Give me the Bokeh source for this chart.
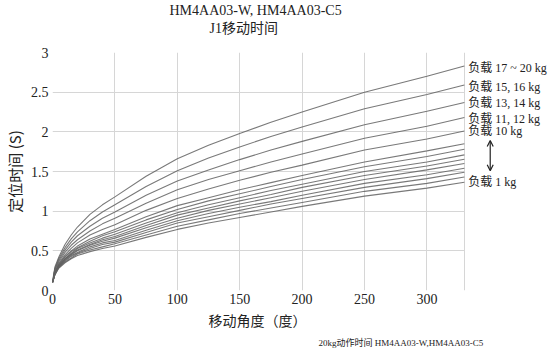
from bokeh.plotting import figure
from bokeh.models import Title, Arrow, OpenHead, FixedTicker, ColumnDataSource
from bokeh.core.properties import value
from bokeh.embed import file_html
from bokeh.resources import INLINE

# Angle (degrees) at which values were read
angles = [0, 2, 5, 10, 15, 20, 30, 40, 50, 75, 100, 125, 150, 175, 200, 250, 300, 330]

# Positioning time (s) per load, top (17-20 kg) to bottom (1 kg)
load_17_20 = [0.12, 0.30, 0.42, 0.58, 0.70, 0.80, 0.96, 1.08, 1.18, 1.44, 1.66, 1.83, 1.98, 2.12, 2.25, 2.50, 2.70, 2.83]
load_15_16 = [0.12, 0.28, 0.40, 0.54, 0.65, 0.74, 0.88, 0.99, 1.08, 1.31, 1.51, 1.67, 1.81, 1.94, 2.06, 2.29, 2.47, 2.59]
load_13_14 = [0.11, 0.27, 0.38, 0.51, 0.61, 0.69, 0.81, 0.91, 0.99, 1.20, 1.38, 1.52, 1.65, 1.77, 1.88, 2.09, 2.26, 2.37]
load_11_12 = [0.11, 0.26, 0.36, 0.48, 0.57, 0.64, 0.75, 0.84, 0.91, 1.10, 1.27, 1.40, 1.51, 1.62, 1.72, 1.92, 2.07, 2.18]
load_10 = [0.11, 0.24, 0.34, 0.45, 0.53, 0.60, 0.70, 0.77, 0.83, 1.01, 1.16, 1.28, 1.39, 1.49, 1.58, 1.77, 1.91, 2.01]
load_9 = [0.11, 0.23, 0.33, 0.43, 0.50, 0.56, 0.65, 0.71, 0.77, 0.93, 1.07, 1.17, 1.27, 1.36, 1.45, 1.62, 1.76, 1.85]
load_8 = [0.11, 0.23, 0.32, 0.42, 0.49, 0.54, 0.62, 0.69, 0.74, 0.89, 1.02, 1.13, 1.22, 1.31, 1.40, 1.56, 1.69, 1.78]
load_7 = [0.10, 0.22, 0.31, 0.40, 0.47, 0.53, 0.60, 0.66, 0.71, 0.85, 0.98, 1.08, 1.17, 1.26, 1.34, 1.50, 1.62, 1.71]
load_6 = [0.10, 0.22, 0.31, 0.40, 0.46, 0.51, 0.58, 0.64, 0.68, 0.82, 0.95, 1.04, 1.13, 1.21, 1.30, 1.45, 1.57, 1.655]
load_5 = [0.10, 0.22, 0.30, 0.39, 0.45, 0.50, 0.57, 0.62, 0.66, 0.79, 0.91, 1.01, 1.09, 1.17, 1.25, 1.40, 1.52, 1.60]
load_4 = [0.10, 0.21, 0.30, 0.38, 0.44, 0.48, 0.55, 0.60, 0.63, 0.76, 0.88, 0.97, 1.05, 1.12, 1.20, 1.35, 1.46, 1.54]
load_3 = [0.10, 0.21, 0.29, 0.37, 0.43, 0.47, 0.53, 0.58, 0.61, 0.73, 0.85, 0.93, 1.01, 1.09, 1.16, 1.30, 1.41, 1.49]
load_2 = [0.10, 0.20, 0.29, 0.36, 0.41, 0.46, 0.51, 0.55, 0.59, 0.70, 0.81, 0.89, 0.97, 1.04, 1.11, 1.25, 1.35, 1.43]
load_1 = [0.10, 0.20, 0.28, 0.35, 0.40, 0.44, 0.49, 0.53, 0.56, 0.67, 0.77, 0.85, 0.92, 0.99, 1.06, 1.19, 1.29, 1.365]

curves = [load_17_20, load_15_16, load_13_14, load_11_12, load_10, load_9,
          load_8, load_7, load_6, load_5, load_4, load_3, load_2, load_1]

# Right-side labels and the value level each one sits at
label_texts = ["负载 17 ~ 20 kg", "负载 15, 16 kg", "负载 13, 14 kg",
               "负载 11, 12 kg", "负载 10 kg", "负载 1 kg"]
label_values = [2.80, 2.57, 2.36, 2.16, 2.01, 1.37]
label_angle = 333.2
arrow_angle = 350.7
arrow_span = (1.51, 1.89)

x_ticks = [0, 50, 100, 150, 200, 250, 300]
x_grid = [0, 50, 100, 150, 200, 250, 300, 330]
y_ticks = [0, 0.5, 1, 1.5, 2, 2.5, 3]
x_max = 330

CJK = "Noto Sans CJK SC"
MIX = "'Liberation Serif', 'Noto Sans CJK SC'"
INK = "#222222"
GRID = "#d6d6d6"

p = figure(width=550, height=354, output_backend="svg", toolbar_location=None,
           x_range=(0, 399), y_range=(0, 3))
p.min_border_left = 49
p.min_border_right = 0
p.min_border_top = 52
p.min_border_bottom = 64
p.background_fill_color = "white"
p.border_fill_color = "white"
p.outline_line_color = None

for ys in curves:
    p.line(angles, ys, line_color="#616161", line_width=1.1, line_alpha=0.85)

p.xaxis.ticker = FixedTicker(ticks=x_ticks)
p.yaxis.ticker = FixedTicker(ticks=y_ticks)
p.xaxis.bounds = (0, x_max)
for ax in (p.xaxis[0], p.yaxis[0]):
    ax.axis_line_color = None
    ax.major_tick_line_color = None
    ax.minor_tick_line_color = None
    ax.major_tick_out = 0
    ax.major_tick_in = 0
    ax.minor_tick_out = 0
    ax.minor_tick_in = 0
    ax.major_label_text_font = MIX
    ax.major_label_text_font_size = "14px"
    ax.major_label_text_color = INK
    ax.axis_label_text_font = CJK
    ax.axis_label_text_font_style = "normal"
    ax.axis_label_text_color = INK
    ax.axis_label_text_font_size = "15px"
p.yaxis.axis_label = "定位时间 (S)"
p.xaxis.major_label_standoff = 3
p.yaxis.major_label_standoff = 4
p.yaxis.axis_label_standoff = 3

p.xgrid.ticker = FixedTicker(ticks=x_grid)
p.ygrid.ticker = FixedTicker(ticks=y_ticks)
p.xgrid.grid_line_color = GRID
p.ygrid.grid_line_color = GRID
p.ygrid.cross_bounds = (0, x_max)

# titles above the plot (closest to the frame first)
p.add_layout(Title(text=" ", standoff=5, text_font=MIX, text_font_size="8px"), "above")
p.add_layout(Title(text="J1移动时间", align="left", offset=157, standoff=0,
                   vertical_align="middle",
                   text_font=MIX, text_font_size="14px", text_font_style="normal",
                   text_color=INK), "above")
p.add_layout(Title(text="HM4AA03-W, HM4AA03-C5", align="left", offset=117, standoff=2,
                   vertical_align="middle",
                   text_font=MIX, text_font_size="14px", text_font_style="normal",
                   text_color=INK), "above")

# x-axis caption and footer note below the plot
p.add_layout(Title(text="移动角度（度）", align="left", offset=156, standoff=13,
                   vertical_align="middle",
                   text_font=MIX, text_font_size="14px", text_font_style="normal",
                   text_color=INK), "below")
p.add_layout(Title(text="20kg动作时间   HM4AA03-W,HM4AA03-C5", align="left", offset=266,
                   standoff=0, vertical_align="middle", text_font=MIX, text_font_size="9px",
                   text_font_style="normal", text_color=INK), "below")

src = ColumnDataSource(dict(x=[label_angle] * len(label_texts), y=label_values, t=label_texts))
p.text(x="x", y="y", text="t", source=src, text_font=value(MIX), text_font_size="12px",
       text_baseline="middle", text_align="left", text_color=INK)

p.add_layout(Arrow(x_start=arrow_angle, y_start=arrow_span[0], x_end=arrow_angle,
                   y_end=arrow_span[1], line_color=INK, line_width=1.2,
                   start=OpenHead(size=6, line_color=INK, line_width=1.2),
                   end=OpenHead(size=6, line_color=INK, line_width=1.2)))

open("out.html", "w").write(file_html(p, INLINE))
